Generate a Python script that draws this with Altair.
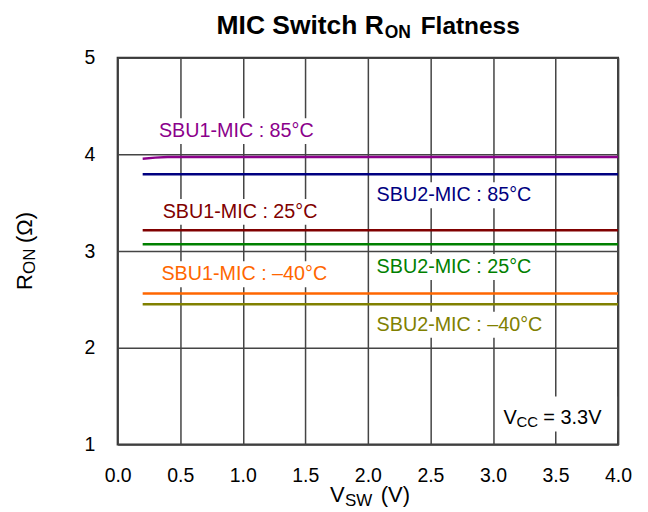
import altair as alt
import pandas as pd

FONT = "Liberation Sans"

# ---- data ----
series = ["SBU1-MIC : 85°C", "SBU2-MIC : 85°C", "SBU1-MIC : 25°C",
          "SBU2-MIC : 25°C", "SBU1-MIC : –40°C", "SBU2-MIC : –40°C"]
colors = ["#8B008B", "#000080", "#800000", "#008000", "#FF6600", "#808000"]

vsw_sbu1_85 = [0.2, 0.3, 0.4, 4.0]
ron_sbu1_85 = [3.955, 3.966, 3.972, 3.972]
vsw_sbu2_85 = [0.2, 4.0]
ron_sbu2_85 = [3.793, 3.793]
vsw_sbu1_25 = [0.2, 4.0]
ron_sbu1_25 = [3.214, 3.214]
vsw_sbu2_25 = [0.2, 4.0]
ron_sbu2_25 = [3.069, 3.069]
vsw_sbu1_m40 = [0.2, 4.0]
ron_sbu1_m40 = [2.56, 2.56]
vsw_sbu2_m40 = [0.2, 4.0]
ron_sbu2_m40 = [2.449, 2.449]

x_ticks = [0.0, 0.5, 1.0, 1.5, 2.0, 2.5, 3.0, 3.5, 4.0]
y_ticks = [1, 2, 3, 4, 5]

# label anchor positions (data units)
label_x = [0.33, 2.07, 0.36, 2.07, 0.35, 2.07]
label_y = [4.24, 3.577, 3.405, 2.835, 2.76, 2.237]
label_w_px = [156, 158, 156, 158, 168, 168]

# ---- build tables ----
xs = [vsw_sbu1_85, vsw_sbu2_85, vsw_sbu1_25, vsw_sbu2_25, vsw_sbu1_m40, vsw_sbu2_m40]
ys = [ron_sbu1_85, ron_sbu2_85, ron_sbu1_25, ron_sbu2_25, ron_sbu1_m40, ron_sbu2_m40]
rows = []
for s, xv, yv in zip(series, xs, ys):
    for a, b in zip(xv, yv):
        rows.append({"series": s, "vsw": a, "ron": b})
lines_df = pd.DataFrame(rows)

W, H = 502, 388
PX_X = W / 4.0
PX_Y = H / 4.0
lab_df = pd.DataFrame({
    "series": series,
    "x": label_x,
    "y": label_y,
    "x0": [x - 4 / PX_X for x in label_x],
    "x1": [x + (w + 4) / PX_X for x, w in zip(label_x, label_w_px)],
    "y0": [y - 13 / PX_Y for y in label_y],
    "y1": [y + 13 / PX_Y for y in label_y],
})

xscale = alt.Scale(domain=[0, 4], nice=False, zero=False)
yscale = alt.Scale(domain=[1, 5], nice=False, zero=False)
cscale = alt.Scale(domain=series, range=colors)

xaxis = alt.Axis(values=x_ticks, format=".1f", title=None, labelPadding=22,
                 labelFlush=False)
yaxis = alt.Axis(values=y_ticks, format="d", title=None, labelPadding=23,
                 labelFlush=False)

boxes = alt.Chart(lab_df).mark_rect(color="white").encode(
    x=alt.X("x0:Q", scale=xscale, axis=xaxis),
    x2="x1:Q",
    y=alt.Y("y0:Q", scale=yscale, axis=yaxis),
    y2="y1:Q",
)

lines = alt.Chart(lines_df).mark_line(strokeWidth=2.5, clip=True).encode(
    x=alt.X("vsw:Q", scale=xscale, axis=xaxis),
    y=alt.Y("ron:Q", scale=yscale, axis=yaxis),
    color=alt.Color("series:N", scale=cscale, legend=None),
    detail="series:N",
)

labels = alt.Chart(lab_df).mark_text(
    align="left", baseline="middle", font=FONT, fontSize=19.8
).encode(
    x=alt.X("x:Q", scale=xscale),
    y=alt.Y("y:Q", scale=yscale),
    text="series:N",
    color=alt.Color("series:N", scale=cscale, legend=None),
)

one = pd.DataFrame({"a": [0]})


def txt(s, px, py, size, weight="normal", align="left", angle=0):
    return alt.Chart(one).mark_text(
        text=s, fontSize=size, fontWeight=weight, align=align,
        baseline="alphabetic", angle=angle, font=FONT, color="black"
    ).encode(x=alt.value(px), y=alt.value(py))


vcc_box = alt.Chart(one).mark_rect(color="white").encode(
    x=alt.value(382), x2=alt.value(501), y=alt.value(340), y2=alt.value(375)
)

annots = [
    # title
    txt("MIC Switch R", 267, -24, 26.5, "bold", "right"),
    txt("ON", 268, -20, 17.5, "bold", "left"),
    txt("Flatness", 304, -24, 24.5, "bold", "left"),
    # x title
    txt("V", 213, 446, 22),
    txt("SW", 228, 450, 17),
    txt("(V)", 264, 446, 22),
    # y title
    txt("R", -86, 233, 22, angle=270),
    txt("ON", -83, 217, 17, angle=270),
    txt("(Ω)", -86, 186, 22, angle=270),
    # Vcc
    txt("V", 387, 368, 20),
    txt("CC", 400, 371, 15),
    txt("= 3.3V", 427, 368, 20),
]

chart = alt.layer(boxes, vcc_box, lines, labels, *annots).properties(
    width=W, height=H,
    autosize=alt.AutoSizeParams(type="none"),
    padding={"left": 110, "top": 49, "right": 22, "bottom": 66},
).configure_view(
    stroke="#333333", strokeWidth=2
).configure_axis(
    grid=True, gridColor="#444444", gridWidth=1.5, gridOpacity=1,
    domain=False, ticks=False,
    labelFont=FONT, labelFontSize=19.5, labelColor="black",
)

chart.save("out.html", embed_options={"renderer": "svg", "actions": False})
